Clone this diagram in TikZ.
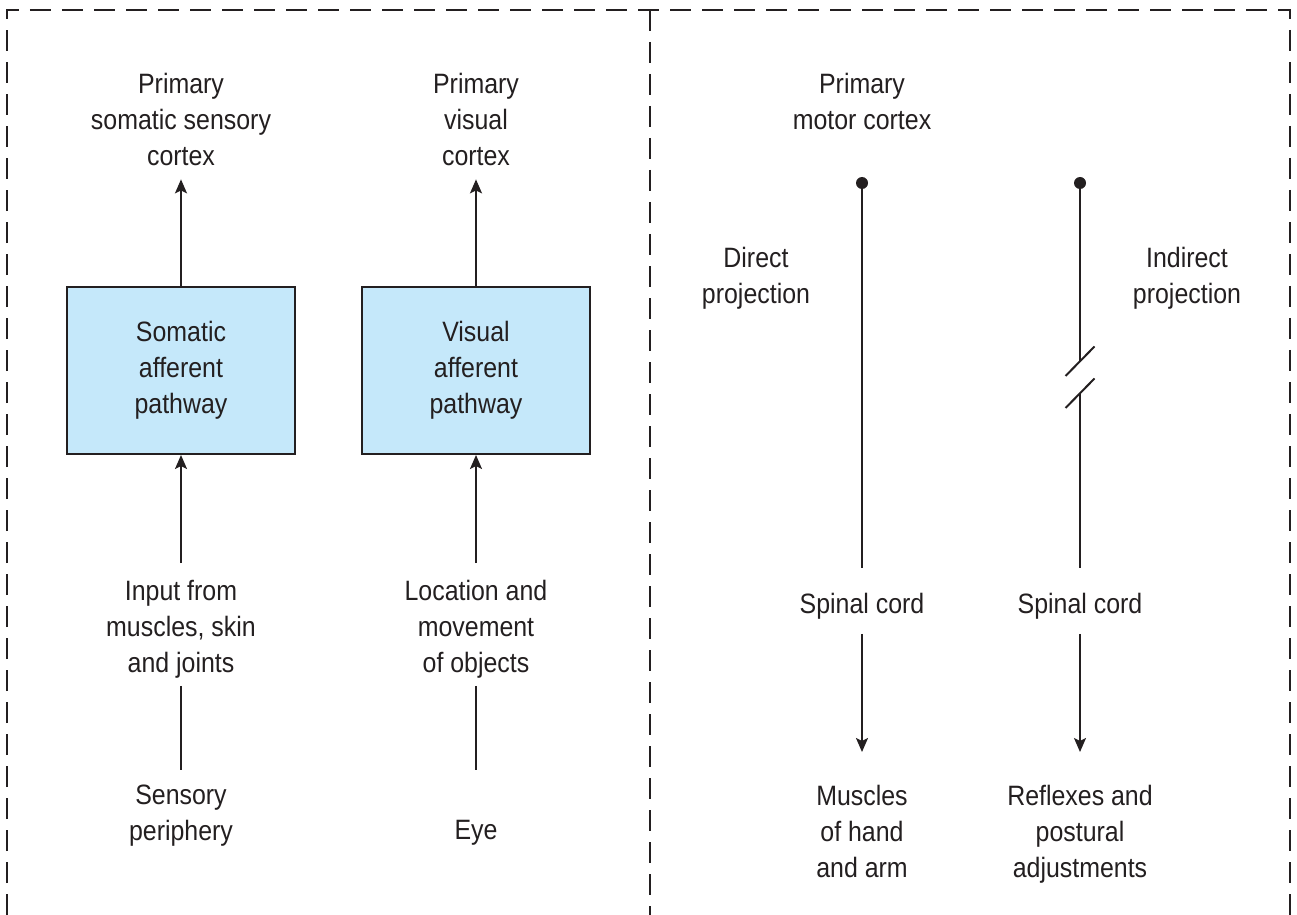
\documentclass[tikz,border=0pt]{standalone}
\usepackage{fontspec}
\setmainfont{Liberation Sans}[FakeStretch=0.89]
\usetikzlibrary{arrows.meta}
\definecolor{ink}{HTML}{231F20}
\definecolor{boxblue}{HTML}{C5E8FA}
\begin{document}
\begin{tikzpicture}[x=0.5pt,y=-0.5pt,
  txt/.style={inner sep=0pt, align=center, font=\fontsize{14}{18}\selectfont, text=ink, anchor=north},
  pbox/.style={draw=ink, line width=1pt, fill=boxblue, minimum width=114pt, minimum height=83.5pt,
    inner sep=0pt, align=center, font=\fontsize{14}{18}\selectfont, text=ink},
  conn/.style={draw=ink, line width=1pt},
  arr/.style={conn, -{Stealth[length=7pt,width=6pt,inset=1.5pt]}},
  frame/.style={draw=ink, line width=0.9pt, dash pattern=on 10.5pt off 5.5pt}]
\useasboundingbox (0,0) rectangle (1297,915);
% frame
\draw[frame] (7,915) -- (7,10) -- (1290,10) -- (1290,915);
\draw[frame] (650,10) -- (650,915);
% left column
\node[txt] (psc) at (181,73) {Primary\\somatic sensory\\cortex};
\node[pbox] (b1) at (181,370.5) {Somatic\\afferent\\pathway};
\node[txt] (in1) at (181,580) {Input from\\muscles, skin\\and joints};
\node[txt] (sp) at (181,785) {Sensory\\periphery};
% second column
\node[txt] (pvc) at (476,73) {Primary\\visual\\cortex};
\node[pbox] (b2) at (476,370.5) {Visual\\afferent\\pathway};
\node[txt] (loc) at (476,580) {Location and\\movement\\of objects};
\node[txt] (eye) at (476,820) {Eye};
% connectors left
\draw[arr, shorten >=6.5pt] (b1.north) -- (psc.south);
\draw[arr, shorten <=8.5pt] (in1.north) -- (b1.south);
\draw[conn, shorten <=3.5pt, shorten >=7.5pt] (in1.south) -- (sp.north);
\draw[arr, shorten >=6.5pt] (b2.north) -- (pvc.south);
\draw[arr, shorten <=8.5pt] (loc.north) -- (b2.south);
\draw[conn, shorten <=3.5pt, shorten >=25pt] (loc.south) -- (eye.north);
% right half
\node[txt] (pmc) at (862,73) {Primary\\motor cortex};
\node[txt] (dp) at (756,247) {Direct\\projection};
\node[txt] (ip) at (1187,247) {Indirect\\projection};
\node[txt] (sc1) at (862,593) {Spinal cord};
\node[txt] (sc2) at (1080,593) {Spinal cord};
\node[txt] (mus) at (862,785) {Muscles\\of hand\\and arm};
\node[txt] (ref) at (1080,785) {Reflexes and\\postural\\adjustments};
\coordinate (d1) at (862,183);
\coordinate (d2) at (1080,183);
\coordinate (k1) at (1080,361);
\coordinate (k2) at (1080,393);
\fill[ink] (d1) circle (3pt);
\fill[ink] (d2) circle (3pt);
\draw[conn, shorten >=12.5pt] (d1) -- (sc1.north);
\draw[arr, shorten <=7pt, shorten >=16.5pt] (sc1.south) -- (mus.north);
\draw[conn] (d2) -- (k1);
\draw[conn, shorten >=12.5pt] (k2) -- (sc2.north);
\draw[conn] ([shift={(-14.5,15)}]k1) -- ([shift={(14.5,-14.5)}]k1);
\draw[conn] ([shift={(-14.5,15)}]k2) -- ([shift={(14.5,-14.5)}]k2);
\draw[arr, shorten <=7pt, shorten >=16.5pt] (sc2.south) -- (ref.north);
\end{tikzpicture}
\end{document}
